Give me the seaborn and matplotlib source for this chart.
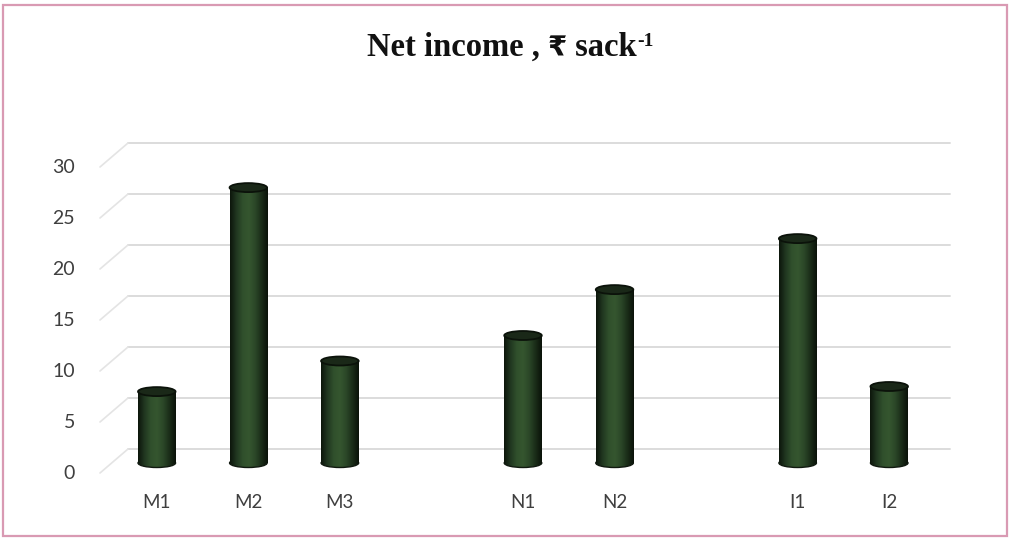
import numpy as np
import pandas as pd
import seaborn as sns
import matplotlib
matplotlib.use("Agg")
import matplotlib.pyplot as plt
from matplotlib.patches import Ellipse, Rectangle
from matplotlib.lines import Line2D
from matplotlib.colors import LinearSegmentedColormap
from matplotlib.transforms import ScaledTranslation

# ---- data ----
categories = ["M1", "M2", "M3", "N1", "N2", "I1", "I2"]
values = [7.0, 27.0, 10.0, 12.5, 17.0, 22.0, 7.5]
slot_order = ["M1", "M2", "M3", "gap1", "N1", "N2", "gap2", "I1", "I2"]
slot_labels = ["M1", "M2", "M3", "", "N1", "N2", "", "I1", "I2"]
y_ticks = [0, 5, 10, 15, 20, 25, 30]
title_parts = ["Net income , ", "₹", " sack", "-1"]

sns.set_theme(style="white")
plt.rcParams["font.family"] = ["Lato", "DejaVu Sans"]

W, H = 1011, 539
fig = plt.figure(figsize=(W / 100, H / 100), dpi=100)
fig.patch.set_facecolor("white")

px_per_unit = 10.2
y_lo, y_hi = -1.0, 31.0
zero_px = 463  # from top
ax_bottom = H - (zero_px + 1.0 * px_per_unit)
ax_height = (y_hi - y_lo) * px_per_unit
ax = fig.add_axes([111 / W, ax_bottom / H, 824 / W, ax_height / H])
ax.patch.set_alpha(0)

df = pd.DataFrame({"cat": categories, "val": values})
sns.barplot(data=df, x="cat", y="val", order=slot_order, color="#2b4728",
            width=0.41, saturation=1, ax=ax, zorder=3)

ax.set_xlim(-0.5, len(slot_order) - 0.5)
ax.set_ylim(y_lo, y_hi)
for s in ax.spines.values():
    s.set_visible(False)
ax.set_xlabel("")
ax.set_ylabel("")
ax.set_xticks(range(len(slot_order)))
ax.set_xticklabels(slot_labels)
ax.set_yticks(y_ticks)
ax.set_yticklabels([str(t) for t in y_ticks])
ax.tick_params(axis="x", length=0, pad=15, labelsize=13.5, labelcolor="#3f3f3f")
ax.tick_params(axis="y", length=0, pad=26, labelsize=14, labelcolor="#3f3f3f")
off = ScaledTranslation(0, -0.09, fig.dpi_scale_trans)
for lab in ax.get_yticklabels():
    lab.set_transform(lab.get_transform() + off)

# cylinder shading
cmap = LinearSegmentedColormap.from_list(
    "cyl", ["#0c150b", "#203620", "#30502c", "#35562f", "#2b4728", "#1a2c18", "#0a1209"])
grad = np.linspace(0, 1, 200)[None, :]
fig.canvas.draw()
ell_h = 9.0 / px_per_unit
for bar in list(ax.patches):
    x, w, h = bar.get_x(), bar.get_width(), bar.get_height()
    if not np.isfinite(h) or h == 0:
        continue
    bar.set_visible(False)
    cx = x + w / 2
    ax.imshow(grad, extent=[x, x + w, 0, h], cmap=cmap, aspect="auto",
              interpolation="bilinear", zorder=3)
    bot = Ellipse((cx, 0), w, ell_h, facecolor="none", edgecolor="none")
    ax.add_patch(bot)
    im = ax.imshow(grad, extent=[x, x + w, -ell_h / 2, ell_h / 2], cmap=cmap,
                   aspect="auto", interpolation="bilinear", zorder=2.9)
    im.set_clip_path(bot)
    ax.add_patch(Ellipse((cx, 0), w, ell_h, facecolor="none", edgecolor="#111a10",
                         lw=1.0, zorder=2.95))
    ax.add_patch(Ellipse((cx, h), w, ell_h, facecolor="#1a2818", edgecolor="#0b120a",
                         lw=1.3, zorder=4))
ax.set_xlim(-0.5, len(slot_order) - 0.5)
ax.set_ylim(y_lo, y_hi)

# perspective gridlines (back wall + side floor diagonals)
fig.canvas.draw()
ax_px = ax.get_window_extent()
for t in y_ticks:
    ypx = ax.transData.transform((0, t))[1]
    back = ypx + 14
    front = ypx - 10
    xl_front = ax_px.x0 - 11
    xl_back = ax_px.x0 + 17
    xr_back = ax_px.x1 + 15
    fig.add_artist(Line2D([xl_back / W, xr_back / W], [back / H, back / H],
                          transform=fig.transFigure, color="#dcdcdc", lw=1.4, zorder=-1))
    fig.add_artist(Line2D([xl_front / W, xl_back / W], [front / H, back / H],
                          transform=fig.transFigure, color="#e4e4e4", lw=1.2, zorder=-1))

# title built from pieces so the rupee sign renders
renderer = fig.canvas.get_renderer()
serif = ["Liberation Serif", "DejaVu Serif"]
styles = [
    dict(fontsize=23.5, fontweight="bold", family=serif, dy=0),
    dict(fontsize=20, fontweight="bold", family=["DejaVu Sans"], dy=0),
    dict(fontsize=23.5, fontweight="bold", family=serif, dy=0),
    dict(fontsize=14, fontweight="bold", family=serif, dy=10),
]
base_y = H - 56
texts = []
for part, st in zip(title_parts, styles):
    t = fig.text(0, (base_y + st["dy"]) / H, part, ha="left", va="baseline",
                 fontsize=st["fontsize"], fontweight=st["fontweight"],
                 family=st["family"], color="#111111")
    texts.append(t)
widths = [t.get_window_extent(renderer).width for t in texts]
total = sum(widths)
xcur = 510 - total / 2
for t, wd in zip(texts, widths):
    t.set_x(xcur / W)
    xcur += wd

fig.add_artist(Rectangle((3 / W, 3 / H), 1 - 7 / W, 1 - 8 / H, transform=fig.transFigure,
                         facecolor="none", edgecolor="#d99ab3", lw=1.6, zorder=10))

fig.savefig("out.png", dpi=100, facecolor="white")
